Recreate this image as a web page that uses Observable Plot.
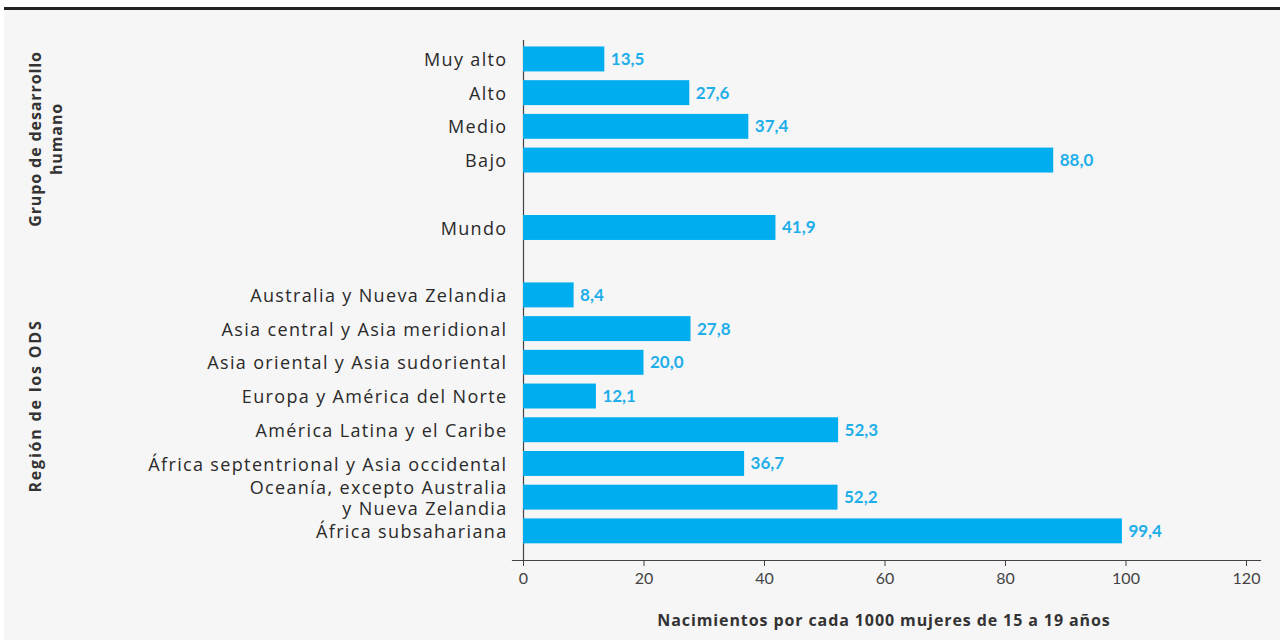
<!DOCTYPE html>
<html><head><meta charset="utf-8">
<script src="https://cdn.jsdelivr.net/npm/d3@7"></script>
<script src="https://cdn.jsdelivr.net/npm/@observablehq/plot@0.6"></script>
<style>
html,body{margin:0;padding:0;background:#fff;width:1280px;height:640px;overflow:hidden;font-family:"Open Sans",sans-serif;}
#bg{position:absolute;left:4px;top:7px;width:1276px;height:633px;border-top:3px solid #222;background:#f6f6f6;box-sizing:border-box;}
#chart{position:absolute;left:0;top:0;}
.glabel{position:absolute;font-weight:700;font-size:16px;color:#333;white-space:nowrap;transform:translate(-50%,-50%) rotate(-90deg);line-height:21px;text-align:center;}
#xlabel{position:absolute;left:884px;top:620px;transform:translate(-50%,-50%);font-weight:700;font-size:16px;color:#333;white-space:nowrap;letter-spacing:0.9px;}
#chart g[aria-label="y-axis tick label"] text{letter-spacing:1.35px;}
</style></head>
<body>
<div id="bg"></div>
<div id="chart"></div>
<div class="glabel" style="left:46px;top:139px;letter-spacing:0.9px;">Grupo de desarrollo<br>humano</div>
<div class="glabel" style="left:35px;top:406px;letter-spacing:1.8px;">Región de los ODS</div>
<div id="xlabel">Nacimientos por cada 1000 mujeres de 15 a 19 años</div>
<script>
const categories = ["Muy alto","Alto","Medio","Bajo","_gap1","Mundo","_gap2",
  "Australia y Nueva Zelandia","Asia central y Asia meridional","Asia oriental y Asia sudoriental",
  "Europa y América del Norte","América Latina y el Caribe","África septentrional y Asia occidental",
  "Oceanía, excepto Australia\ny Nueva Zelandia","África subsahariana"];
const barCategories = ["Muy alto","Alto","Medio","Bajo","Mundo",
  "Australia y Nueva Zelandia","Asia central y Asia meridional","Asia oriental y Asia sudoriental",
  "Europa y América del Norte","América Latina y el Caribe","África septentrional y Asia occidental",
  "Oceanía, excepto Australia\ny Nueva Zelandia","África subsahariana"];
const values = [13.5,27.6,37.4,88.0,41.9,8.4,27.8,20.0,12.1,52.3,36.7,52.2,99.4];
const xTicks = [0,20,40,60,80,100,120];

const data = barCategories.map((c,i)=>({cat:c, v:values[i]}));
const fmt = v => v.toFixed(1).replace(".", ",");

const plot = Plot.plot({
  width: 1280, height: 640,
  marginLeft: 512, marginRight: 20, marginTop: 40, marginBottom: 80,
  style: {background:"transparent", fontFamily:"'Open Sans', sans-serif"},
  x: {domain:[0,120], insetLeft:11, insetRight:14},
  y: {domain: categories, padding:0.26, round:false, range:[37.7,552.1]},
  marks: [
    Plot.frame({anchor:"bottom", stroke:"#444", strokeWidth:1.2}),
    Plot.ruleX([0], {stroke:"#444", strokeWidth:1.2}),
    Plot.barX(data, {x:"v", y:"cat", fill:"#00aeef"}),
    Plot.text(data, {x:"v", y:"cat", text:d=>fmt(d.v), dx:6, textAnchor:"start", fill:"#1eaeea", fontWeight:"bold", fontSize:17, fontFamily:"Lato, sans-serif"}),
    Plot.axisX(xTicks, {tickSize:6, tickPadding:6, fontSize:16, color:"#444", stroke:"#444", label:null, fontFamily:"Lato, sans-serif", tickFormat:d=>String(d)}),
    Plot.axisY({tickSize:0, tickPadding:5, fontSize:18, fill:"#2a2a2a", lineHeight:1.15, label:null, tickFormat:d=>d.startsWith("_")?"":d})
  ]
});
document.getElementById("chart").appendChild(plot);
</script>
</body></html>
